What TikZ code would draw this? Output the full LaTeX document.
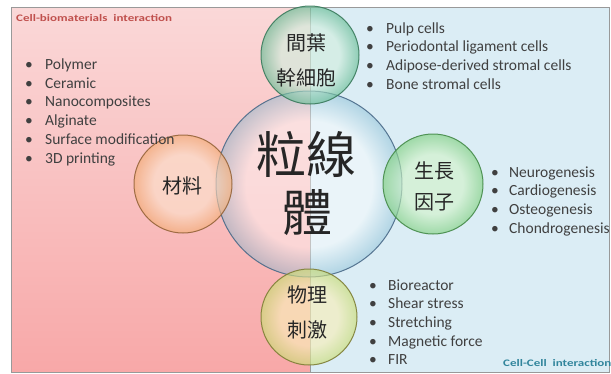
\documentclass[tikz,border=0pt]{standalone}
\usepackage{fontspec}
\setmainfont{Carlito}
\newfontfamily\cjk{Noto Sans CJK TC}
\newfontfamily\widefont[FakeStretch=1.3]{Carlito}
\usetikzlibrary{calc}
\definecolor{pinktop}{HTML}{FAD8D8}
\definecolor{pinkbot}{HTML}{F8A8A8}
\definecolor{bluebg}{HTML}{DBEDF5}
\definecolor{txt}{HTML}{404040}
\definecolor{redlab}{HTML}{C0504D}
\definecolor{bluelab}{HTML}{31859C}
\definecolor{tealE}{HTML}{66BC94}
\definecolor{tealI}{HTML}{D2EEDE}
\definecolor{tealB}{HTML}{3A7A5C}
\definecolor{orE}{HTML}{F2AC74}
\definecolor{orI}{HTML}{FBE0CA}
\definecolor{orB}{HTML}{95643A}
\definecolor{grE}{HTML}{80D080}
\definecolor{grI}{HTML}{D2F2CA}
\definecolor{grB}{HTML}{448A48}
\definecolor{yeE}{HTML}{C8DC74}
\definecolor{yeI}{HTML}{F8EEB8}
\definecolor{yeB}{HTML}{7E7E36}
\definecolor{blE}{HTML}{78B4CE}
\definecolor{blB}{HTML}{4A6A88}
\pgfdeclareradialshading{ringteal}{\pgfpointorigin}{color(0bp)=(tealI); color(15bp)=(tealI); color(25bp)=(tealE); color(50bp)=(tealE)}
\pgfdeclareradialshading{ringor}{\pgfpointorigin}{color(0bp)=(orI); color(15bp)=(orI); color(25bp)=(orE); color(50bp)=(orE)}
\pgfdeclareradialshading{ringgr}{\pgfpointorigin}{color(0bp)=(grI); color(15bp)=(grI); color(25bp)=(grE); color(50bp)=(grE)}
\pgfdeclareradialshading{ringye}{\pgfpointorigin}{color(0bp)=(yeI); color(15bp)=(yeI); color(25bp)=(yeE); color(50bp)=(yeE)}
\pgfdeclareradialshading{ringbl}{\pgfpointorigin}{color(0bp)=(white); color(17bp)=(white); color(25bp)=(blE); color(50bp)=(blE)}
\tikzset{
  listitem/.style={anchor=base west, inner sep=0pt, text=txt, font=\fontsize{15.5}{18}\selectfont},
  cjklab/.style={inner sep=0pt, text=black!85, font=\cjk\fontsize{20}{24}\selectfont},
  biglab/.style={inner sep=0pt, text=black!85, font=\cjk\fontsize{50}{60}\selectfont},
  smalllab/.style={anchor=base west, inner sep=0pt, font=\widefont\bfseries\fontsize{10}{12}\selectfont},
  bubble/.style 2 args={draw=#2, line width=1pt, shading=#1, fill opacity=0.65, draw opacity=0.9},
}
\begin{document}
\begin{tikzpicture}[x=1pt,y=-1pt]
\useasboundingbox (0,0) rectangle (611,373);
% backgrounds
\shade[top color=pinktop, bottom color=pinkbot] (11,7) rectangle (310,372);
\fill[bluebg] (310,7) rectangle (609,372);
\draw[black!40, line width=0.6pt] (11,7) rectangle (310,372);
\draw[black!40, line width=0.6pt] (310,7) rectangle (609,372);
% circles
\path[bubble={ringbl}{blB}, fill opacity=0.42] (309,184) circle[radius=93pt];
\path[bubble={ringteal}{tealB}] (310,55) circle[radius=49pt];
\path[bubble={ringor}{orB}] (183,184) circle[radius=49pt];
\path[bubble={ringgr}{grB}] (433,184) circle[radius=50pt];
\path[bubble={ringye}{yeB}] (309,317) circle[radius=48pt];
% circle names
\node[biglab] (m1) at (306,154) {粒線};
\node[biglab] (m2) at (307,213) {體};
\node[cjklab] (t1) at (306,43) {間葉};
\node[cjklab] (t2) at (306,78) {幹細胞};
\node[cjklab] (c1) at (182,186) {材料};
\node[cjklab] (g1) at (434,171) {生長};
\node[cjklab] (g2) at (434,202) {因子};
\node[cjklab] (p1) at (307,295) {物理};
\node[cjklab] (p2) at (307,330) {刺激};
% small labels
\node[smalllab, text=redlab] (lab1) at (16,21) {Cell-biomaterials\ \ interaction};
\node[smalllab, text=bluelab] (lab2) at (503,366) {Cell-Cell\ \ interaction};
% lists
\foreach \t [count=\i] in {Polymer,Ceramic,Nanocomposites,Alginate,Surface modification,3D printing}
  \node[listitem] (a\i) at (25,{69.5+18.7*(\i-1)}) {\makebox[20pt][l]{\textbullet}\t};
\foreach \t [count=\i] in {Pulp cells,Periodontal ligament cells,Adipose-derived stromal cells,Bone stromal cells}
  \node[listitem] (b\i) at (366,{33+18.7*(\i-1)}) {\makebox[20pt][l]{\textbullet}\t};
\foreach \t [count=\i] in {Neurogenesis,Cardiogenesis,Osteogenesis,Chondrogenesis}
  \node[listitem] (c\i) at (491,{177+18.7*(\i-1)}) {\makebox[18pt][l]{\textbullet}\t};
\foreach \t [count=\i] in {Bioreactor,Shear stress,Stretching,Magnetic force,FIR}
  \node[listitem] (d\i) at (369,{290+18.7*(\i-1)}) {\makebox[19pt][l]{\textbullet}\t};
\end{tikzpicture}
\end{document}
